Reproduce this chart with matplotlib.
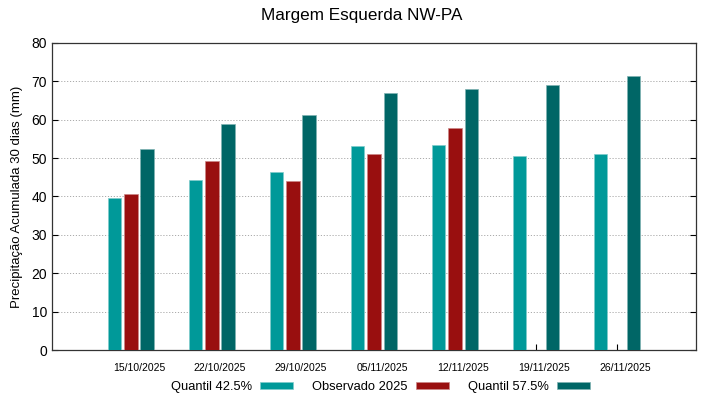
import numpy as np
import matplotlib
matplotlib.use("Agg")
import matplotlib.pyplot as plt

plt.rcParams['font.family'] = ['Liberation Sans', 'DejaVu Sans']

# data
dates = ["15/10/2025", "22/10/2025", "29/10/2025", "05/11/2025",
         "12/11/2025", "19/11/2025", "26/11/2025"]
q425 = [39.5, 44.2, 46.5, 53.2, 53.3, 50.6, 51.0]
observado = [40.6, 49.3, 44.0, 51.0, 57.9, np.nan, np.nan]
q575 = [52.5, 58.9, 61.2, 66.9, 67.9, 69.0, 71.3]

c_q425 = '#009999'
c_obs = '#990f0f'
c_q575 = '#006666'

fig = plt.figure(figsize=(7.19, 3.99), dpi=100)
ax = fig.add_axes([0.0723, 0.1228, 0.8957, 0.7695])

x = np.arange(len(dates))
w = 0.165
off = 0.2
ax.bar(x - off, q425, w, color=c_q425, edgecolor='#7fcccc', linewidth=0.5,
       label='Quantil 42.5%', zorder=3)
ax.bar(x, observado, w, color=c_obs, edgecolor='#cc8787', linewidth=0.5,
       label='Observado 2025', zorder=3)
ax.bar(x + off, q575, w, color=c_q575, edgecolor='#7fb2b2', linewidth=0.5,
       label='Quantil 57.5%', zorder=3)

ax.set_xlim(-0.975, 6.975)
ax.set_ylim(0, 80)
ax.set_yticks(np.arange(0, 81, 10))
# tick marks at group centre, labels drawn slightly to the right (gnuplot style)
ax.set_xticks(x)
ax.set_xticklabels([])
ax.set_xticks(x + 0.1, minor=True)
ax.set_xticklabels(dates, minor=True, fontsize=7.5)
ax.tick_params(axis='x', which='minor', length=0, pad=9)
ax.tick_params(axis='x', which='major', direction='in', length=4)
ax.tick_params(axis='y', labelsize=10, direction='in', right=True, length=4)
ax.yaxis.grid(True, linestyle=(0, (1.2, 1.8)), color='#aaaaaa', linewidth=0.7, zorder=0)
for s in ax.spines.values():
    s.set_color('#333333')
    s.set_linewidth(0.9)

ax.set_ylabel('Precipitação Acumulada 30 dias (mm)', fontsize=9.5, labelpad=6)
fig.text(0.503, 0.962, 'Margem Esquerda NW-PA', ha='center', va='center', fontsize=12.3)

fig.legend(loc='center', bbox_to_anchor=(0.529, 0.03), ncol=3, frameon=False,
           markerfirst=False, fontsize=9.3, handlelength=2.55, handleheight=0.45,
           columnspacing=1.5, handletextpad=0.6)

fig.savefig('out.png', dpi=100)
